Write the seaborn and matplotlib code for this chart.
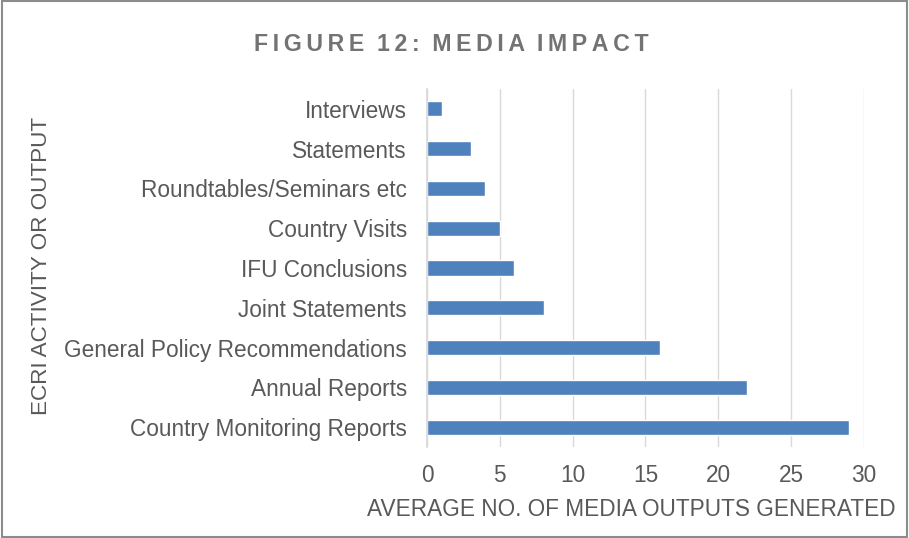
import matplotlib
matplotlib.use("Agg")
import matplotlib.pyplot as plt
import seaborn as sns
import pandas as pd
from matplotlib.patches import Rectangle

# Chart data
activities = ["Interviews", "Statements", "Roundtables/Seminars etc", "Country Visits",
              "IFU Conclusions", "Joint Statements", "General Policy Recommendations",
              "Annual Reports", "Country Monitoring Reports"]
media_outputs = [1, 3, 4, 5, 6, 8, 16, 22, 29]
x_ticks = [0, 5, 10, 15, 20, 25, 30]

df = pd.DataFrame({"activity": activities, "outputs": media_outputs})

sns.set_theme(style="white")
plt.rcParams["font.family"] = ["Liberation Sans", "DejaVu Sans"]

text_color = "#595959"
fig = plt.figure(figsize=(9.09, 5.38), dpi=100)
ax = fig.add_axes([0.4697, 0.1691, 0.4808, 0.6655])

sns.barplot(data=df, x="outputs", y="activity", color="#4F81BD", width=0.38,
            saturation=1, ax=ax)

ax.set_xlim(0, 30)
ax.set_xticks(x_ticks)
ax.grid(axis="x", color="#D9D9D9", linewidth=1)
ax.set_axisbelow(True)
for s in ["top", "right", "bottom"]:
    ax.spines[s].set_visible(False)
ax.spines["left"].set_color("#D9D9D9")
ax.tick_params(axis="both", length=0, labelsize=16.3, colors=text_color)
ax.tick_params(axis="y", pad=14.5)
ax.tick_params(axis="x", pad=12)

ax.set_xlabel("")
ax.set_ylabel("")
fig.text(0.694, 0.053, "AVERAGE NO. OF MEDIA OUTPUTS GENERATED", fontsize=16.3,
         color=text_color, ha="center", va="center")
fig.text(0.046, 0.505, "ECRI ACTIVITY OR OUTPUT", rotation=90, fontsize=16.2,
         color=text_color, ha="center", va="center")

title = "\u2009".join("FIGURE 12: MEDIA IMPACT").replace("\u2009 \u2009", "  ")
fig.text(0.497, 0.918, title, fontsize=16.7, fontweight="bold", color="#737373",
         ha="center", va="center")

fig.patches.append(Rectangle((0.002, 0.002), 0.996, 0.996, transform=fig.transFigure,
                             fill=False, edgecolor="#8C8C8C", linewidth=1.5))

fig.savefig("out.png", dpi=100)
